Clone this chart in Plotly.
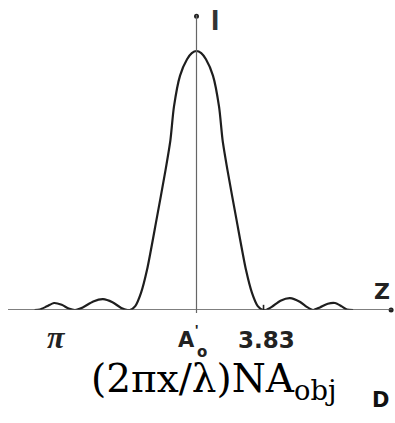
import plotly.graph_objects as go

# Curve (x in units of (2πx/λ)NA_obj, y relative intensity)
x_vals = [-9.25, -8.95, -8.55, -8.14, -7.7, -7.3, -6.94, -6.5, -5.9, -5.34, -4.8, -4.3,
          -3.95, -3.8, -3.5, -3.17, -2.83, -2.29, -1.77, -1.49, -1.29, -0.94, -0.54, -0.27, 0.0,
          0.27, 0.54, 0.94, 1.29, 1.49, 1.77, 2.29, 2.83, 3.17, 3.5, 3.8, 3.95, 4.3, 4.8,
          5.34, 5.9, 6.3, 6.66, 7.05, 7.5, 7.91, 8.3, 8.6, 8.95]
y_vals = [0.0, 0.002, 0.014, 0.027, 0.02, 0.006, 0.0, 0.01, 0.033, 0.042, 0.03, 0.008,
          0.0, 0.0, 0.015, 0.066, 0.154, 0.347, 0.54, 0.656, 0.784, 0.905, 0.968, 0.992, 1.0,
          0.992, 0.968, 0.905, 0.784, 0.656, 0.54, 0.347, 0.154, 0.066, 0.015, 0.0, 0.0, 0.012,
          0.036, 0.046, 0.032, 0.012, 0.0, 0.01, 0.024, 0.027, 0.014, 0.002, 0.0]

tick_pos = [3.83]
tick_text = ["3.83"]

x_range = [-10.77, 11.17]
y_range = [0.0, 1.139]

fig = go.Figure()
fig.add_trace(go.Scatter(x=x_vals, y=y_vals, mode="lines",
                         line=dict(color="#1e1e1e", width=2.2, shape="spline", smoothing=0.7),
                         hoverinfo="skip", showlegend=False))
# axis end dots
fig.add_trace(go.Scatter(x=[x_range[1] - 0.05, 0], y=[0, y_range[1] - 0.005], mode="markers",
                         marker=dict(color="#222", size=5), cliponaxis=False,
                         hoverinfo="skip", showlegend=False))

shapes = [
    dict(type="line", xref="paper", yref="y", x0=0, x1=1, y0=0, y1=0,
         line=dict(color="#555", width=1.3)),
    dict(type="line", xref="x", yref="paper", x0=0, x1=0, y0=-0.01, y1=1,
         line=dict(color="#666", width=1.2)),
]
for t in tick_pos:
    shapes.append(dict(type="line", xref="x", yref="y", x0=t, x1=t, y0=-0.03, y1=0.02,
                       line=dict(color="#222", width=1.6)))

bold_sans = "DejaVu Sans"
annotations = [
    dict(text="<b>I</b>", x=215, y=20, font=dict(family="Liberation Sans", size=30, color="#333")),
    dict(text="<b>Z</b>", x=382, y=291, font=dict(family=bold_sans, size=22, color="#222")),
    dict(text="<b><i>π</i></b>", x=56, y=337, font=dict(family="Liberation Serif", size=32, color="#222")),
    dict(text="<b>A</b>", x=186, y=340, font=dict(family=bold_sans, size=21, color="#222")),
    dict(text="<b>'</b>", x=196, y=330, font=dict(family="Liberation Sans", size=14, color="#222")),
    dict(text="<b>o</b>", x=202, y=352, font=dict(family=bold_sans, size=15, color="#222")),
    dict(text="<b>" + tick_text[0] + "</b>", x=266, y=340, font=dict(family=bold_sans, size=23, color="#222")),
    dict(text="(2πx/λ)NA<sub>obj</sub>", x=213, y=381, font=dict(family="DejaVu Serif", size=39, color="#000")),
    dict(text="<b>D</b>", x=380, y=400, font=dict(family=bold_sans, size=21, color="#111")),
]
for a in annotations:
    a.update(xref="paper", yref="paper", showarrow=False, xanchor="center", yanchor="middle")
# convert pixel positions to paper coords
L, R, T, B = 8, 3, 15, 113
W, H = 395, 423
pw, ph = W - L - R, H - T - B
for a in annotations:
    a["x"] = (a["x"] - L) / pw
    a["y"] = 1 - (a["y"] - T) / ph

fig.update_layout(
    width=W, height=H,
    margin=dict(l=L, r=R, t=T, b=B),
    paper_bgcolor="white", plot_bgcolor="white",
    xaxis=dict(range=x_range, visible=False, fixedrange=True),
    yaxis=dict(range=y_range, visible=False, fixedrange=True),
    shapes=shapes, annotations=annotations,
)
fig.write_html("out.html", config={"displayModeBar": False},
               post_script="document.body.style.margin='0';document.body.style.overflow='hidden';")
